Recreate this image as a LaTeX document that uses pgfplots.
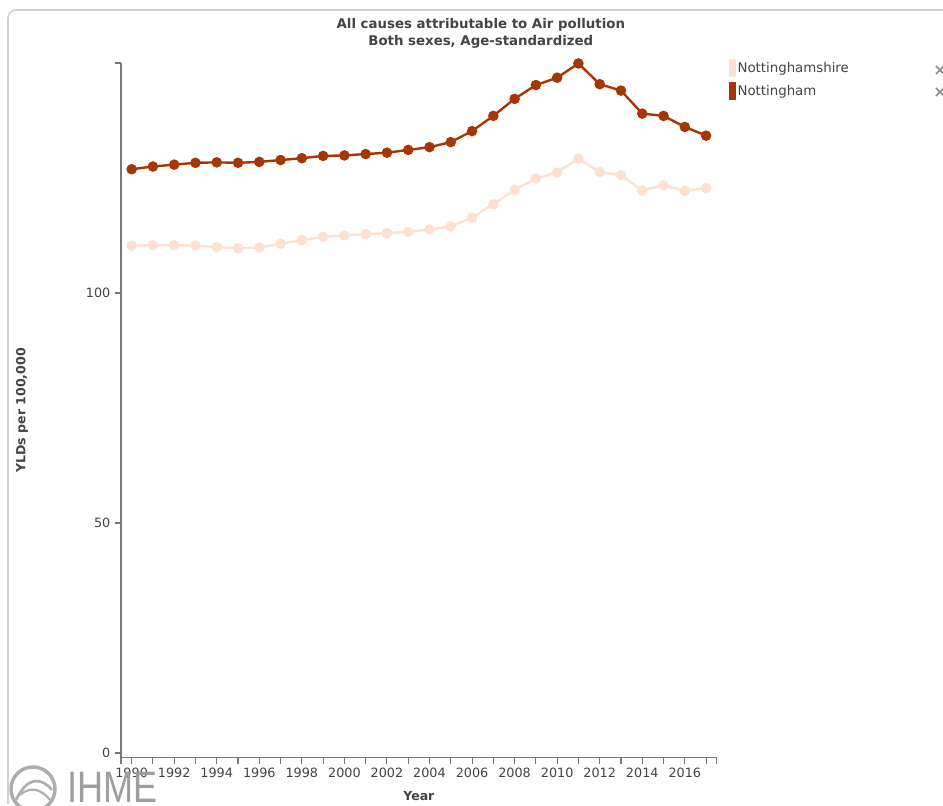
\documentclass[border=0pt]{standalone}
\usepackage{fontspec}
\setmainfont{DejaVu Sans}
\newfontfamily\logofont{Liberation Sans}
\usepackage{pgfplots}
\pgfplotsset{compat=1.18}
\definecolor{shire}{RGB}{254,224,210}
\definecolor{city}{RGB}{166,54,3}
\definecolor{axisgray}{RGB}{120,120,120}
\definecolor{txtgray}{RGB}{68,68,68}
\begin{document}
\begin{tikzpicture}
\begin{axis}[
    at={(0,0)}, anchor=south west,
    scale only axis, width=446.8pt, height=520.95pt,
    xmin=1989.5, xmax=2017.5, ymin=-1, ymax=150,
    axis x line*=bottom, axis y line*=left,
    axis line style={draw=axisgray, line width=0.9pt},
    tick style={draw=axisgray, line width=0.8pt},
    tick align=outside,
    major tick length=4.5pt, minor tick length=4.5pt,
    xtick={1990,1992,...,2016},
    minor xtick={1989.5,1991,1993,...,2017,2017.5},
    ytick={0,50,100,150}, yticklabels={0,50,100,{}},
    /pgf/number format/assume math mode=true,
    xticklabel style={/pgf/number format/1000 sep={}, font=\fontsize{9.6}{11}\selectfont, text=txtgray},
    yticklabel style={font=\fontsize{9.6}{11}\selectfont, text=txtgray},
    xlabel={\textbf{Year}},
    xlabel style={at={(rel axis cs:0.5,0)}, anchor=center, yshift=-28.8pt, font=\fontsize{9.4}{11}\selectfont, text=txtgray},
    ylabel={\textbf{YLDs per 100,000}},
    ylabel style={at={(rel axis cs:-0.166,0.5)}, anchor=center, font=\fontsize{9.4}{11}\selectfont, text=txtgray},
    title={\textbf{All causes attributable to Air pollution}\\\textbf{Both sexes, Age-standardized}},
    title style={at={(rel axis cs:0.604,1)}, anchor=center, yshift=16.3pt, align=center, font=\fontsize{10}{12.6}\selectfont, text=txtgray},
    legend style={draw=none, fill=none, at={(rel axis cs:1.0195,1.006)}, anchor=north west,
        font=\fontsize{10}{12}\selectfont, text=txtgray, row sep=3.2pt, inner sep=0pt,
        cells={anchor=west}, nodes={inner xsep=1.5pt}},
    legend image code/.code={\fill (0pt,-6pt) rectangle (3.4pt,6pt);},
    clip=false,
]
\addplot[color=shire, line width=1.8pt, mark=*, mark size=3pt] coordinates {
(1990,110.3) (1991,110.4) (1992,110.4) (1993,110.3) (1994,110.0) (1995,109.7)
(1996,109.9) (1997,110.7) (1998,111.5) (1999,112.2) (2000,112.5) (2001,112.8)
(2002,113.0) (2003,113.3) (2004,113.8) (2005,114.5) (2006,116.4) (2007,119.3)
(2008,122.4) (2009,124.9) (2010,126.2) (2011,129.2) (2012,126.3) (2013,125.6)
(2014,122.3) (2015,123.4) (2016,122.2) (2017,122.8)};
\addlegendentry{Nottinghamshire}
\addplot[color=city, line width=1.8pt, mark=*, mark size=3pt] coordinates {
(1990,126.9) (1991,127.5) (1992,127.9) (1993,128.3) (1994,128.4) (1995,128.3)
(1996,128.5) (1997,128.9) (1998,129.3) (1999,129.8) (2000,129.9) (2001,130.2)
(2002,130.5) (2003,131.1) (2004,131.7) (2005,132.8) (2006,135.2) (2007,138.5)
(2008,142.2) (2009,145.2) (2010,146.8) (2011,149.9) (2012,145.4) (2013,144.0)
(2014,139.0) (2015,138.5) (2016,136.1) (2017,134.2)};
\addlegendentry{Nottingham}
\end{axis}
% page frame, legend close marks and logo, in reference pixel units
\begin{scope}[x=0.75pt, y=-0.75pt, shift={(-121,-757.6)}]
\useasboundingbox (0,0) rectangle (943,804);
\draw[black!18, line width=1.2pt] (8,804) -- (8,18) arc[start angle=180, end angle=270, radius=8] -- (943,10);
\node[text=black!45, font=\fontsize{12}{12}\selectfont\bfseries] at (940,71) {×};
\node[text=black!45, font=\fontsize{12}{12}\selectfont\bfseries] at (940,93) {×};
\draw[black!32, line width=2.6pt] (33,789) circle[radius=22];
\draw[black!32, line width=2pt] (16,800) .. controls (28,775) and (42,778) .. (52,790);
\draw[black!32, line width=1.6pt] (20,795) .. controls (32,784) and (44,792) .. (50,800);
\node[text=black!38, font=\logofont\fontsize{33}{36}\selectfont, anchor=base west, xscale=0.82] at (64,803) {IHME};
\end{scope}
\end{tikzpicture}
\end{document}
